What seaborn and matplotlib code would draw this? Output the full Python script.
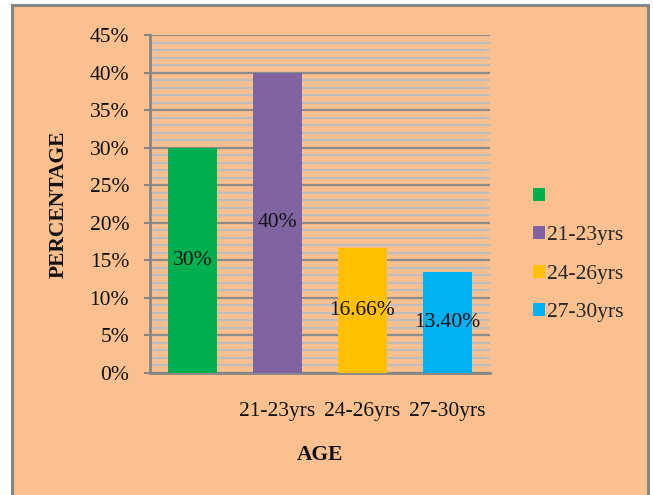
import matplotlib
matplotlib.use("Agg")
import matplotlib.pyplot as plt
from matplotlib.patches import Patch, Rectangle
from matplotlib.ticker import MultipleLocator, PercentFormatter
import seaborn as sns
import pandas as pd

# Age groups and their share of respondents (%)
ages = ["", "21-23yrs", "24-26yrs", "27-30yrs"]
percentages = [30, 40, 16.66, 13.40]
value_labels = ["30%", "40%", "16.66%", "13.40%"]
colors = ["#00B050", "#8064A2", "#FFC000", "#00B0F0"]

PEACH = "#FAC090"
FONT = "Liberation Serif"
FS = 15.5

sns.set_theme(style="white")
plt.rcParams["font.family"] = [FONT, "DejaVu Serif"]

fig = plt.figure(figsize=(6.53, 4.95), dpi=100)
fig.patch.set_facecolor("white")

# framed chart area
fig.patches.append(Rectangle((12 / 653, -0.05), (648 - 12) / 653, 1 - 5 / 495 + 0.05,
                             transform=fig.transFigure, facecolor=PEACH,
                             edgecolor="#868686", linewidth=2.2, zorder=-10))

ax = fig.add_axes([150 / 653, 1 - 373 / 495, 340 / 653, (373 - 35) / 495])
ax.set_facecolor(PEACH)

df = pd.DataFrame({"age": pd.Categorical(ages, categories=ages), "pct": percentages})
sns.barplot(data=df, x="age", y="pct", hue="age", palette=colors,
            width=0.565, legend=False, saturation=1, linewidth=0, ax=ax, zorder=3)

for bar, lab, val in zip(ax.patches, value_labels, percentages):
    ax.text(bar.get_x() + bar.get_width() / 2, val / 2, lab,
            ha="center", va="center", fontsize=FS, color="#111111",
            family=FONT, zorder=4)

ax.set_ylim(0, 45)
ax.set_xlim(-0.5, 3.5)
ax.yaxis.set_major_locator(MultipleLocator(5))
ax.yaxis.set_minor_locator(MultipleLocator(1))
ax.yaxis.set_major_formatter(PercentFormatter(decimals=0))
ax.grid(which="minor", axis="y", color="#BDBDBD", linewidth=1.6, zorder=1)
ax.grid(which="major", axis="y", color="#8C8C8C", linewidth=1.6, zorder=2)
ax.set_axisbelow(True)

for side in ["top", "right"]:
    ax.spines[side].set_visible(False)
for side in ["left", "bottom"]:
    ax.spines[side].set_color("#868686")
    ax.spines[side].set_linewidth(2)

ax.tick_params(axis="y", which="major", left=True, length=4, width=1.5,
               color="#868686", pad=11, labelsize=FS, labelcolor="#111111")
ax.tick_params(axis="y", which="minor", left=False)
ax.tick_params(axis="x", bottom=False, pad=15, labelsize=FS, labelcolor="#111111")

ax.set_xlabel("AGE", fontsize=FS, fontweight="bold", color="#111111", labelpad=17)
ax.set_ylabel("PERCENTAGE", fontsize=FS, fontweight="bold", color="#111111")
ax.yaxis.set_label_coords(-(150 - 69) / 340, 0.5)

handles = [Patch(facecolor=c, edgecolor="none", label=(a if a else " "))
           for a, c in zip(ages, colors)]
fig.legend(handles=handles, loc="upper left", bbox_to_anchor=(522 / 653, 1 - 177 / 495),
           frameon=False, fontsize=FS, handlelength=0.55, handleheight=0.55,
           handletextpad=0.1, labelspacing=0.9, borderpad=0)

fig.savefig("out.png", dpi=100, facecolor=fig.get_facecolor())
